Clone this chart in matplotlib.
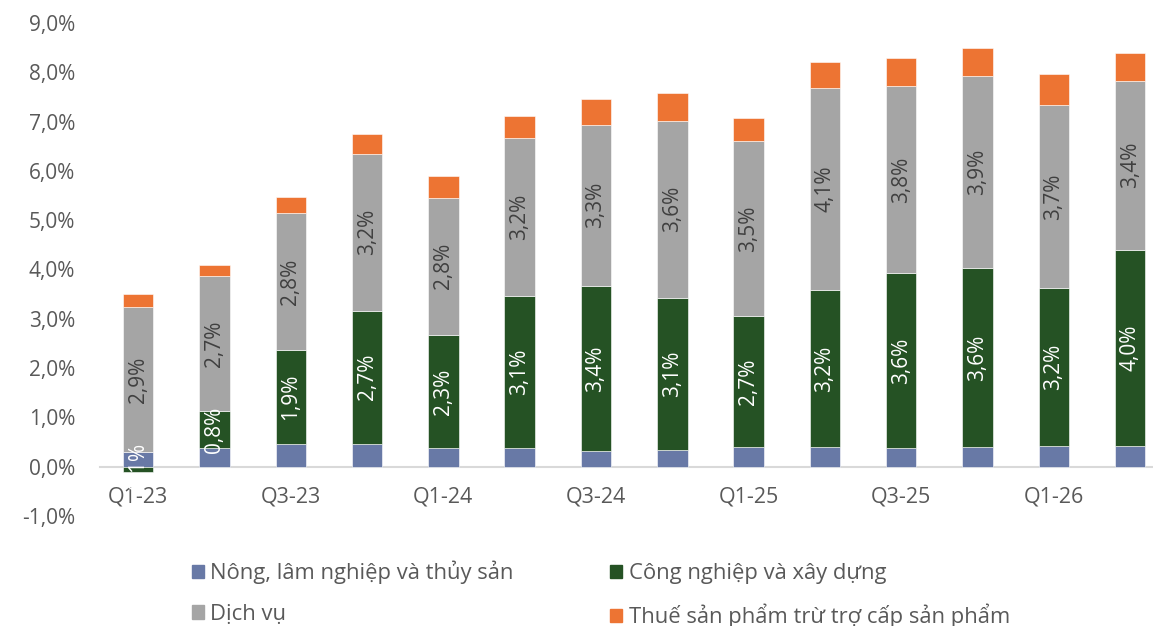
import matplotlib.pyplot as plt
from matplotlib.patches import Patch, Rectangle

plt.rcParams['font.family'] = ['Open Sans', 'DejaVu Sans']

quarters = ['Q1-23', 'Q2-23', 'Q3-23', 'Q4-23', 'Q1-24', 'Q2-24', 'Q3-24',
            'Q4-24', 'Q1-25', 'Q2-25', 'Q3-25', 'Q4-25', 'Q1-26', 'Q2-26']
tick_labels = ['Q1-23', '', 'Q3-23', '', 'Q1-24', '', 'Q3-24',
               '', 'Q1-25', '', 'Q3-25', '', 'Q1-26', '']

# contributions to growth (%)
nong = [0.30, 0.37, 0.47, 0.47, 0.37, 0.37, 0.31, 0.33, 0.39, 0.39, 0.37, 0.39, 0.41, 0.43]
cong = [-0.10, 0.76, 1.89, 2.69, 2.30, 3.09, 3.36, 3.09, 2.66, 3.20, 3.56, 3.64, 3.22, 3.97]
dichvu = [2.94, 2.74, 2.79, 3.19, 2.79, 3.20, 3.27, 3.60, 3.55, 4.10, 3.79, 3.89, 3.70, 3.43]
thue = [0.26, 0.22, 0.33, 0.39, 0.43, 0.45, 0.51, 0.55, 0.47, 0.51, 0.57, 0.57, 0.63, 0.57]

names = ['Nông, lâm nghiệp và thủy sản', 'Công nghiệp và xây dựng',
         'Dịch vụ', 'Thuế sản phẩm trừ trợ cấp sản phẩm']
colors = ['#6879A6', '#255224', '#A5A5A5', '#ED7433']

fig = plt.figure(figsize=(11.53, 6.26), dpi=100)
ax = fig.add_axes([100 / 1153, 1 - 516 / 626, 1 - 100 / 1153, (516 - 23) / 626])

x = list(range(len(quarters)))
w = 0.4
kw = dict(width=w, edgecolor='white', linewidth=0.4)

# stack: positives go up from 0, negatives go down from 0
ax.bar(x, nong, bottom=0, color=colors[0], **kw)
base = [max(v, 0) for v in nong]
cong_bottom = [base[i] if cong[i] >= 0 else 0 for i in x]
ax.bar(x, cong, bottom=cong_bottom, color=colors[1], **kw)
base = [base[i] + max(cong[i], 0) for i in x]
dv_bottom = base[:]
ax.bar(x, dichvu, bottom=base, color=colors[2], **kw)
base = [base[i] + dichvu[i] for i in x]
ax.bar(x, thue, bottom=base, color=colors[3], **kw)

def fmt(v):
    return ('%.1f%%' % v).replace('.', ',')

for i in x:
    low = min(cong[i], 0)
    top = base[i] + thue[i]
    clip = Rectangle((i - w / 2, low), w, top - low, transform=ax.transData,
                     visible=False)
    ax.add_patch(clip)
    t = ax.text(i, cong_bottom[i] + cong[i] / 2, fmt(cong[i]), rotation=90,
                ha='center', va='center', color='white', fontsize=15)
    t.set_clip_path(clip)
    ax.text(i, dv_bottom[i] + dichvu[i] / 2, fmt(dichvu[i]), rotation=90,
            ha='center', va='center', color='#404040', fontsize=15)

ax.set_ylim(-1, 9)
ax.set_xlim(-0.5, 13.3)
ax.set_yticks(range(-1, 10))
ax.set_yticklabels([fmt(v) for v in range(-1, 10)])
ax.set_xticks(x)
ax.set_xticklabels(tick_labels)

for s in ['top', 'right', 'left']:
    ax.spines[s].set_visible(False)
ax.spines['bottom'].set_position(('data', 0))
ax.spines['bottom'].set_color('#D9D9D9')
ax.spines['bottom'].set_linewidth(1.5)
ax.spines['bottom'].set_zorder(0)
ax.tick_params(axis='both', length=0, colors='#595959')
ax.tick_params(axis='y', labelsize=15, pad=18)
ax.tick_params(axis='x', labelsize=15.5, pad=14)

handles = [Patch(color=c) for c in colors]
order = [0, 2, 1, 3]
fig.legend([handles[i] for i in order], [names[i] for i in order],
           loc='lower left', bbox_to_anchor=(172 / 1153, -0.035), ncol=2,
           frameon=False, fontsize=15.8, handlelength=0.55, handleheight=0.55,
           handletextpad=0.3, columnspacing=4.4, labelspacing=0.9,
           labelcolor='#595959')

fig.savefig('out.png', dpi=100)
